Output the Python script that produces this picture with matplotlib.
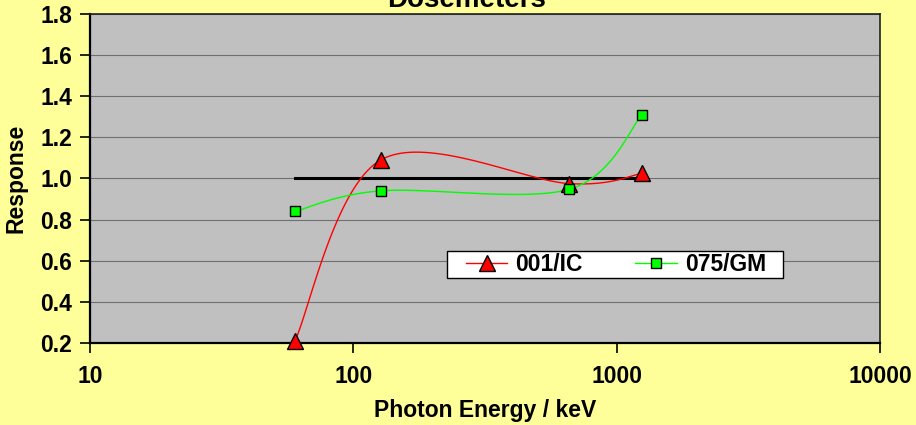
import numpy as np
import matplotlib
matplotlib.use("Agg")
import matplotlib.pyplot as plt
from matplotlib.patches import Rectangle

plt.rcParams['font.family'] = ['Liberation Sans', 'DejaVu Sans']
plt.rcParams['font.weight'] = 'bold'

# photon energies (keV) and measured responses
energy = [60, 127, 662, 1250]
resp_ic = [0.21, 1.09, 0.975, 1.025]
resp_gm = [0.84, 0.94, 0.948, 1.31]
ref_energy = [60, 1250]
ref_resp = [1.0, 1.0]

xticks = [10, 100, 1000, 10000]
yticks = [0.2, 0.4, 0.6, 0.8, 1.0, 1.2, 1.4, 1.6, 1.8]

fig_bg = '#FFFF99'
plot_bg = '#C0C0C0'
fs = 16.5

W, H = 916, 425
ax_l, ax_r, ax_t, ax_b = 90, 880, 14, 343


def smooth_curve(xs, ys, xlim, ylim, n=40):
    # bezier smoothing done in axis-scaled coords (log x), like spreadsheet "smoothed line"
    w = ax_r - ax_l
    h = ax_b - ax_t
    lx0, lx1 = np.log10(xlim[0]), np.log10(xlim[1])
    u = (np.log10(xs) - lx0) / (lx1 - lx0) * w
    v = (np.array(ys) - ylim[0]) / (ylim[1] - ylim[0]) * h
    pts = np.column_stack([u, v])
    out = []
    for i in range(len(pts) - 1):
        p0 = pts[i]
        p3 = pts[i + 1]
        prev = pts[i - 1] if i > 0 else p0
        nxt = pts[i + 2] if i + 2 < len(pts) else p3
        p1 = p0 + (p3 - prev) / 6.0
        p2 = p3 - (nxt - p0) / 6.0
        t = np.linspace(0, 1, n)[:, None]
        seg = ((1 - t) ** 3) * p0 + 3 * ((1 - t) ** 2) * t * p1 + 3 * (1 - t) * t ** 2 * p2 + t ** 3 * p3
        out.append(seg if i == 0 else seg[1:])
    out = np.vstack(out)
    cx = 10 ** (out[:, 0] / w * (lx1 - lx0) + lx0)
    cy = out[:, 1] / h * (ylim[1] - ylim[0]) + ylim[0]
    return cx, cy


def to_axes(px, py):
    # pixel position (from top-left of figure) -> axes fraction
    return (px - ax_l) / (ax_r - ax_l), (ax_b - py) / (ax_b - ax_t)


fig = plt.figure(figsize=(W / 100, H / 100), dpi=100, facecolor=fig_bg)
ax = fig.add_axes([ax_l / W, 1 - ax_b / H, (ax_r - ax_l) / W, (ax_b - ax_t) / H])
ax.set_facecolor(plot_bg)

xlim = (10, 10000)
ylim = (0.2, 1.8)
ax.set_xscale('log')
ax.set_xlim(*xlim)
ax.set_ylim(*ylim)

ax.plot(ref_energy, ref_resp, color='black', lw=2.2, solid_capstyle='projecting', zorder=3)

cx, cy = smooth_curve(energy, resp_ic, xlim, ylim)
ax.plot(cx, cy, color='#FF0000', lw=1.0, zorder=4)
ax.plot(energy, resp_ic, ls='none', marker='^', ms=11, mfc='#FF0000', mec='black', mew=1.0,
        zorder=5, clip_on=False)

gx, gy = smooth_curve(energy, resp_gm, xlim, ylim)
ax.plot(gx, gy, color='#00FF00', lw=1.0, zorder=4)
ax.plot(energy, resp_gm, ls='none', marker='s', ms=7.5, mfc='#00FF00', mec='black', mew=1.0,
        zorder=5, clip_on=False)

# legend box drawn separately so the entries can sit inside with their own spacing
bx0, by0 = to_axes(447, 278)
bx1, by1 = to_axes(783, 251)
ax.add_patch(Rectangle((bx0, by0), bx1 - bx0, by1 - by0, transform=ax.transAxes,
                       facecolor='white', edgecolor='black', lw=1.0, zorder=6))
h_ic, = ax.plot([], [], color='#FF0000', lw=1.0, marker='^', ms=11, mfc='#FF0000', mec='black', mew=1.0)
h_gm, = ax.plot([], [], color='#00FF00', lw=1.0, marker='s', ms=7.5, mfc='#00FF00', mec='black', mew=1.0)
leg = ax.legend([h_ic, h_gm], ['001/IC', '075/GM'], ncol=2, loc='center',
                bbox_to_anchor=to_axes(616, 264.5), frameon=False,
                prop={'weight': 'bold', 'size': fs}, handlelength=1.8, borderpad=0,
                handletextpad=0.35, columnspacing=2.3, borderaxespad=0)
leg.set_zorder(7)

ax.set_yticks(yticks)
ax.set_yticklabels(['%.1f' % y for y in yticks])
ax.set_xticks(xticks)
ax.set_xticklabels([str(x) for x in xticks])
ax.minorticks_off()
ax.tick_params(axis='both', direction='out', length=7, width=1.2, labelsize=fs, color='black')
ax.tick_params(axis='x', pad=9)
ax.tick_params(axis='y', pad=6)
for lab in ax.get_xticklabels() + ax.get_yticklabels():
    lab.set_fontweight('bold')

ax.grid(axis='y', color='#707070', lw=0.8)
ax.set_axisbelow(True)
for side in ['left', 'bottom']:
    ax.spines[side].set_linewidth(1.6)
    ax.spines[side].set_color('black')
for side in ['top', 'right']:
    ax.spines[side].set_linewidth(1.2)
    ax.spines[side].set_color('#202020')

ax.set_xlabel('Photon Energy / keV', fontsize=fs, fontweight='bold', labelpad=8)
ax.set_ylabel('Response', fontsize=fs, fontweight='bold', labelpad=9)
fig.text(467 / W, 1 - 7 / H, 'Dosemeters', ha='center', va='baseline',
         fontsize=20, fontweight='bold')

fig.savefig('out.png', dpi=100, facecolor=fig_bg)
